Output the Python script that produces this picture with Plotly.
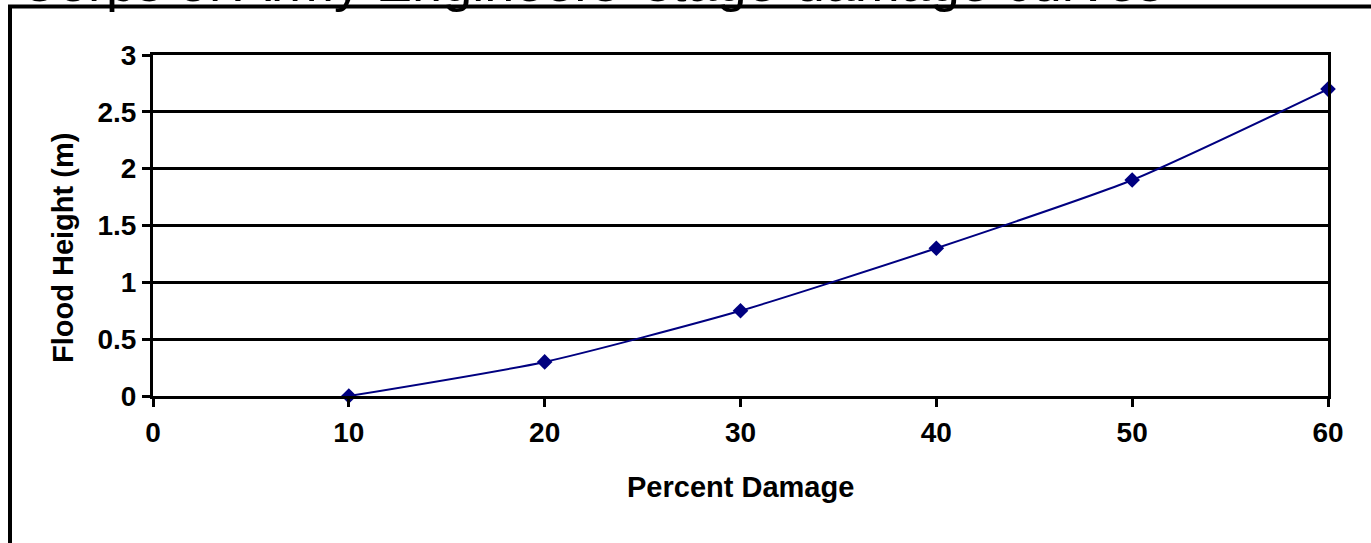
import plotly.graph_objects as go

# ---- data ----
percent_damage = [10, 20, 30, 40, 50, 60]
flood_height = [0, 0.3, 0.75, 1.3, 1.9, 2.7]

x_tick_vals = [0, 10, 20, 30, 40, 50, 60]
x_tick_text = ["0", "10", "20", "30", "40", "50", "60"]
y_tick_vals = [0, 0.5, 1, 1.5, 2, 2.5, 3]
y_tick_text = ["0", "0.5", "1", "1.5", "2", "2.5", "3"]

title_text = "Corps of Army Engineers' stage-damage curves"
x_title = "Percent Damage"
y_title = "Flood Height (m)"

# ---- layout geometry (pixels; page body margin removed below) ----
W, H = 1371, 543
L, T, R, B = 153, 55, 1371 - 1328, 543 - 396
pw, ph = W - L - R, H - T - B


def px_x(sx):
    return (sx - L) / pw


def px_y(sy):
    return (H - B - sy) / ph


FONT = "Liberation Sans, Arial, sans-serif"
NAVY = "#000080"

fig = go.Figure()
fig.add_trace(go.Scatter(
    x=percent_damage, y=flood_height,
    mode="lines+markers",
    line=dict(color=NAVY, width=2, shape="spline", smoothing=0.6),
    marker=dict(symbol="diamond", size=12, color=NAVY),
    cliponaxis=False,
    showlegend=False,
))

fig.update_layout(
    width=W, height=H, autosize=False,
    margin=dict(l=L, r=R, t=T, b=B, pad=0),
    paper_bgcolor="white", plot_bgcolor="white",
    font=dict(family=FONT, color="black"),
    xaxis=dict(
        range=[0, 60], tickvals=x_tick_vals, ticktext=x_tick_text,
        showgrid=False, zeroline=False,
        showline=True, linecolor="black", linewidth=3, mirror=True,
        ticks="outside", ticklen=8, tickwidth=3, tickcolor="black",
        tickfont=dict(family=FONT, size=28, color="black", weight="bold"),
        ticklabelstandoff=1,
        fixedrange=True,
    ),
    yaxis=dict(
        range=[0, 3], tickvals=y_tick_vals, ticktext=y_tick_text,
        showgrid=True, gridcolor="black", gridwidth=3, zeroline=False,
        showline=True, linecolor="black", linewidth=3, mirror=True,
        ticks="outside", ticklen=8, tickwidth=3, tickcolor="black",
        tickfont=dict(family=FONT, size=28, color="black", weight="bold"),
        ticklabelstandoff=0,
        fixedrange=True,
    ),
    shapes=[
        dict(type="rect", xref="paper", yref="paper",
             x0=px_x(10), x1=px_x(1400), y0=px_y(6.5), y1=px_y(600),
             line=dict(color="black", width=4), fillcolor="rgba(0,0,0,0)",
             layer="above"),
    ],
    annotations=[
        dict(text=title_text, xref="paper", yref="paper",
             x=px_x(18), y=px_y(13), xanchor="left", yanchor="bottom",
             showarrow=False, borderpad=0,
             font=dict(family=FONT, size=54, color="black")),
        dict(text=x_title, xref="paper", yref="paper",
             x=0.5, y=px_y(487), xanchor="center", yanchor="middle",
             showarrow=False,
             font=dict(family=FONT, size=29, color="black", weight="bold")),
        dict(text=y_title, xref="paper", yref="paper",
             x=px_x(63), y=px_y(248), xanchor="center", yanchor="middle",
             textangle=-90, showarrow=False,
             font=dict(family=FONT, size=29, color="black", weight="bold")),
    ],
)

fig.write_html(
    "out.html",
    config={"displayModeBar": False, "staticPlot": True},
    post_script="document.body.style.margin='0';document.body.style.overflow='hidden';",
)
